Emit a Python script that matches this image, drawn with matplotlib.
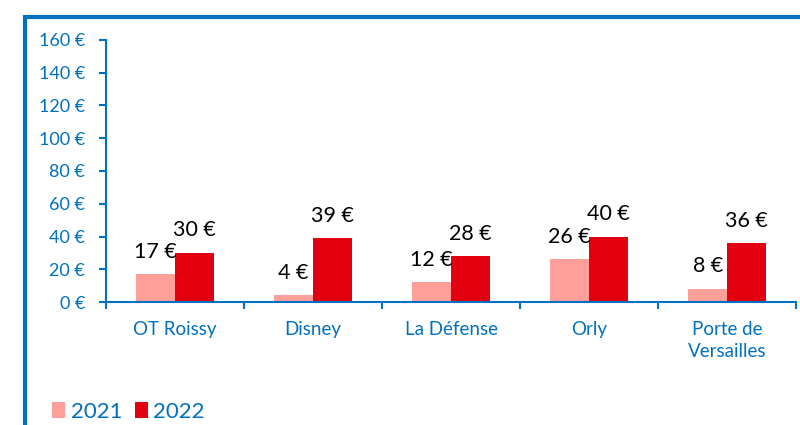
import numpy as np
import matplotlib.pyplot as plt
from matplotlib.patches import Rectangle

# values
categories = ['OT Roissy', 'Disney', 'La Défense', 'Orly', 'Porte de\nVersailles']
values_2021 = [17, 4, 12, 26, 8]
values_2022 = [30, 39, 28, 40, 36]
y_ticks = [0, 20, 40, 60, 80, 100, 120, 140, 160]

blue = '#0070C0'
c2021 = '#FF9F9A'
c2022 = '#E3000F'

plt.rcParams['font.family'] = ['Lato', 'DejaVu Sans']

fig = plt.figure(figsize=(8, 4.25), dpi=100)
ax = fig.add_axes([0.1325, 0.2894, 0.8625, 0.6165])

x = np.arange(len(categories))
w = 0.28
b1 = ax.bar(x - w / 2, values_2021, w, color=c2021, label='2021')
b2 = ax.bar(x + w / 2, values_2022, w, color=c2022, label='2022')

for bars, vals in ((b1, values_2021), (b2, values_2022)):
    for rect, v in zip(bars, vals):
        ax.annotate(f'{v} €', (rect.get_x() + rect.get_width() / 2, rect.get_height()),
                    xytext=(0, 9), textcoords='offset points', ha='center', va='bottom',
                    fontsize=15.5, color='black')

ax.set_xlim(-0.5, len(categories) - 0.5)
ax.set_ylim(0, 160)
ax.set_yticks(y_ticks)
ax.set_yticklabels([f'{t} €' for t in y_ticks])
ax.set_xticks(x)
ax.set_xticklabels(categories, linespacing=1.35)
ax.set_xticks(np.arange(-0.5, len(categories)), minor=True)

ax.tick_params(axis='y', colors=blue, labelsize=13, length=5, width=1.5, pad=10)
ax.tick_params(axis='x', which='major', colors=blue, labelsize=13.5, length=0, pad=14)
ax.tick_params(axis='x', which='minor', colors=blue, length=5, width=1.5)

for s in ['top', 'right']:
    ax.spines[s].set_visible(False)
for s in ['left', 'bottom']:
    ax.spines[s].set_color(blue)
    ax.spines[s].set_linewidth(1.5)

# blue frame around the chart (cut off at right and bottom)
fig.patches.append(Rectangle((25 / 800, -0.2), 1.2, 0.2 + (425 - 17) / 425,
                             transform=fig.transFigure, fill=False,
                             edgecolor=blue, linewidth=3, clip_on=False))

fig.legend(handles=[b1, b2], loc='lower left', bbox_to_anchor=(0.04, -0.04),
           ncol=2, frameon=False, fontsize=16, labelcolor=blue,
           handlelength=0.6, handleheight=0.7, handletextpad=0.25, columnspacing=0.55)

fig.savefig('out.png', dpi=100)
